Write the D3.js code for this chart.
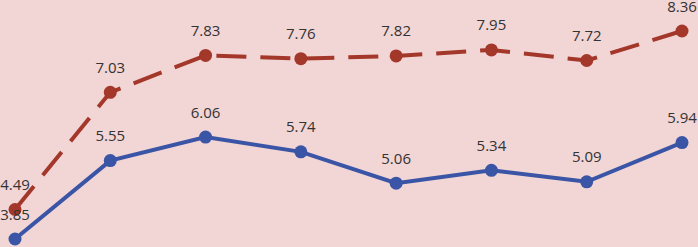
<!DOCTYPE html>
<html>
<head>
<meta charset="utf-8">
<script src="https://cdn.jsdelivr.net/npm/d3@7"></script>
<style>
  html, body { margin: 0; padding: 0; background: #f2d5d5; }
  svg { display: block; }
</style>
</head>
<body>
<script>
const categories = ['1', '2', '3', '4', '5', '6', '7', '8'];
const upper = [4.49, 7.03, 7.83, 7.76, 7.82, 7.95, 7.72, 8.36];
const lower = [3.85, 5.55, 6.06, 5.74, 5.06, 5.34, 5.09, 5.94];

const width = 698;
const height = 247;

const svg = d3.select('body').append('svg')
  .attr('width', width)
  .attr('height', height);

svg.append('rect')
  .attr('width', width)
  .attr('height', height)
  .attr('fill', '#f2d5d5');

const x = d3.scalePoint()
  .domain(categories)
  .range([15, 682]);

const y = d3.scaleLinear()
  .domain([3.85, 8.36])
  .range([239, 31]);

const series = [
  { values: upper, color: '#a3372a', dash: '30 14' },
  { values: lower, color: '#3a55a6', dash: null },
];

const line = d3.line()
  .x((d, i) => x(categories[i]))
  .y(d => y(d));

for (const s of series) {
  const g = svg.append('g');
  g.append('path')
    .datum(s.values)
    .attr('fill', 'none')
    .attr('stroke', s.color)
    .attr('stroke-width', 4)
    .attr('stroke-dasharray', s.dash)
    .attr('d', line);

  g.selectAll('circle')
    .data(s.values)
    .join('circle')
    .attr('cx', (d, i) => x(categories[i]))
    .attr('cy', d => y(d))
    .attr('r', 6.5)
    .attr('fill', s.color);

  g.selectAll('text')
    .data(s.values)
    .join('text')
    .attr('x', (d, i) => x(categories[i]))
    .attr('y', d => y(d) - 19.5)
    .attr('text-anchor', 'middle')
    .attr('font-family', '"Open Sans", "Noto Sans", sans-serif')
    .attr('font-size', 15)
    .attr('fill', '#333')
    .text(d => d.toFixed(2));
}
</script>
</body>
</html>
